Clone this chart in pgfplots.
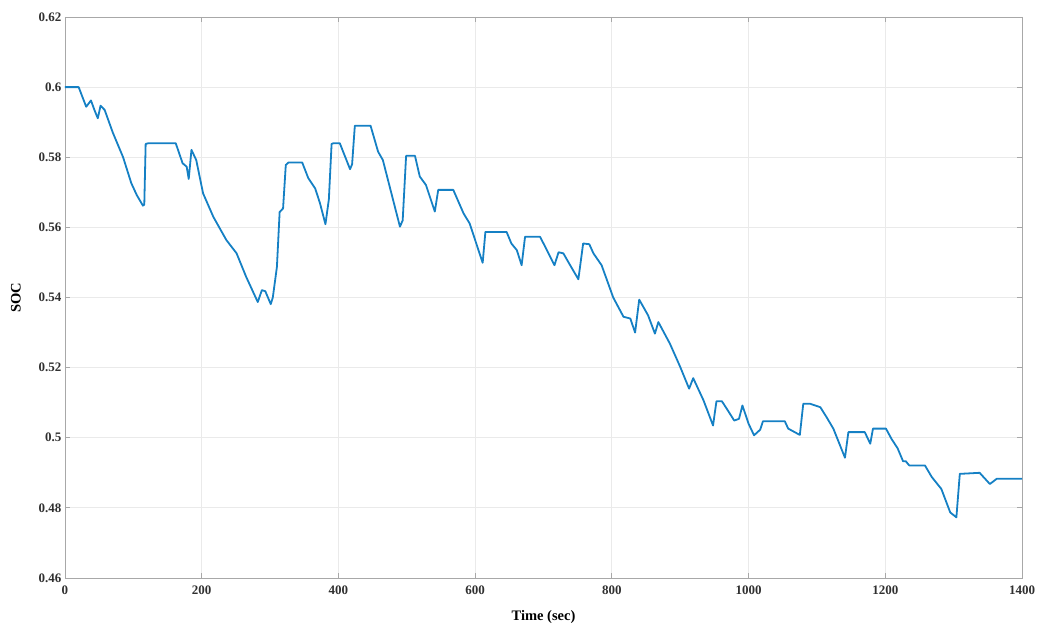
\documentclass[border=0pt]{standalone}
\usepackage{pgfplots}
\pgfplotsset{compat=1.18}
\usepackage{fontspec}
\setmainfont{Liberation Serif}
\definecolor{mblue}{HTML}{1580C4}
\definecolor{frame}{HTML}{A8A8A8}
\definecolor{gridc}{HTML}{EAEAEA}
\definecolor{txt}{HTML}{303030}
\begin{document}
\begin{tikzpicture}
\begin{axis}[
  scale only axis,
  width=957pt, height=561pt,
  xmin=0, xmax=1400, ymin=0.46, ymax=0.62,
  xtick={0,200,...,1400},
  ytick={0.46,0.48,...,0.62},
  yticklabels={0.46,0.48,0.5,0.52,0.54,0.56,0.58,0.6,0.62},
  /pgf/number format/1000 sep={},
  grid=major,
  major grid style={gridc, line width=0.8pt},
  axis line style={frame, line width=0.8pt},
  tick style={frame, line width=0.8pt},
  major tick length=5pt,
  tick align=inside,
  xtick pos=both, ytick pos=both,
  tick label style={font=\fontsize{13}{15}\selectfont\bfseries, text=txt},
  xticklabel style={yshift=-4pt},
  /pgf/number format/assume math mode=true,
  xlabel={Time (sec)}, ylabel={SOC},
  label style={font=\fontsize{14.5}{16}\selectfont\bfseries, text=black},
  xlabel style={yshift=-9pt},
  ylabel style={yshift=11pt},
]
\coordinate (sw) at (rel axis cs:0,0);
\coordinate (ne) at (rel axis cs:1,1);
\addplot[mblue, line width=1.8pt, line join=round] coordinates {
(0,0.600) (20,0.600) (31,0.5944) (38,0.5962) (43,0.5935) (48,0.5911) (52,0.5947) (58,0.5935)
(70,0.5870) (85,0.5800) (97,0.5726) (105,0.5692) (114,0.5662) (116,0.5665) (118,0.5838)
(122,0.5840) (162,0.5840) (172,0.5783) (178,0.5773) (181,0.5738) (185,0.5821) (192,0.5792)
(202,0.5697) (217,0.5630) (236,0.5564) (251,0.5526) (265,0.5459) (282,0.5387) (288,0.5421)
(293,0.5418) (301,0.5381) (304,0.5400) (310,0.5487) (314,0.5644) (319,0.5654) (323,0.5778)
(327,0.5785) (347,0.5785) (356,0.5740) (366,0.5711) (373,0.5669) (381,0.5609) (386,0.5680)
(390,0.5838) (393,0.5840) (402,0.5840) (417,0.5766) (420,0.5780) (424,0.5890) (447,0.5890)
(458,0.5816) (465,0.5792) (490,0.5602) (494,0.5620) (499,0.5804) (512,0.5804) (519,0.5745)
(528,0.5721) (541,0.5645) (546,0.5707) (568,0.5707) (583,0.5640) (592,0.5611) (611,0.5499)
(615,0.5587) (646,0.5587) (653,0.5554) (661,0.5535) (668,0.5492) (673,0.5573) (695,0.5573)
(705,0.5535) (716,0.5492) (722,0.5529) (729,0.5526) (739,0.5492) (751,0.5452) (758,0.5554)
(767,0.5552) (773,0.5526) (785,0.5492) (802,0.5400) (817,0.5345) (827,0.5340) (834,0.5300)
(840,0.5394) (853,0.5349) (863,0.5297) (868,0.5330) (885,0.5268) (900,0.5202) (913,0.5140)
(919,0.5170) (934,0.5107) (948,0.5035) (953,0.5104) (961,0.5104) (968,0.5083) (979,0.5049)
(986,0.5054) (991,0.5092) (1000,0.5040) (1008,0.5007) (1017,0.5023) (1021,0.5047) (1053,0.5047)
(1058,0.5026) (1075,0.5008) (1080,0.5097) (1090,0.5097) (1105,0.5087) (1114,0.5059) (1124,0.5026)
(1141,0.4943) (1146,0.5016) (1170,0.5016) (1178,0.4983) (1182,0.5026) (1201,0.5026) (1209,0.4997)
(1218,0.4970) (1226,0.4933) (1230,0.4933) (1235,0.4921) (1258,0.4921) (1268,0.4888) (1282,0.4854)
(1295,0.4787) (1304,0.4773) (1309,0.4897) (1338,0.4900) (1353,0.4868) (1363,0.4883) (1400,0.4883)
};
\end{axis}
\pgfresetboundingbox
\path ([shift={(-65pt,-48pt)}]sw) rectangle ([shift={(18pt,17pt)}]ne);
\end{tikzpicture}
\end{document}
